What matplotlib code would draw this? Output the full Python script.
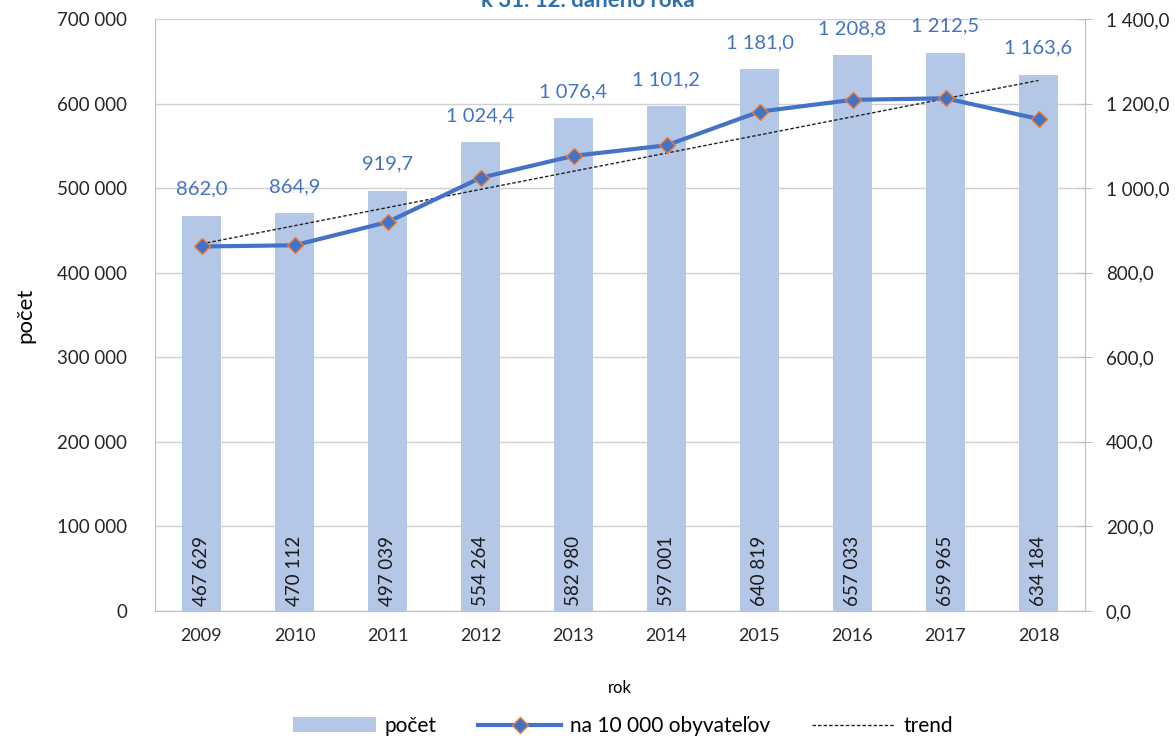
import numpy as np
import matplotlib.pyplot as plt

plt.rcParams['font.family'] = ['Lato', 'DejaVu Sans']

roky = ['2009', '2010', '2011', '2012', '2013', '2014', '2015', '2016', '2017', '2018']
pocet = [467629, 470112, 497039, 554264, 582980, 597001, 640819, 657033, 659965, 634184]
na_10000 = [862.0, 864.9, 919.7, 1024.4, 1076.4, 1101.2, 1181.0, 1208.8, 1212.5, 1163.6]

bar_col = '#B4C7E7'
line_col = '#4472C4'
grid_col = '#D0D0D0'

def fmt_int(v):
    return f'{int(v):,}'.replace(',', ' ')

def fmt_dec(v):
    s = f'{v:,.1f}'
    return s.replace(',', ' ').replace('.', ',')

fig = plt.figure(figsize=(11.75, 7.41), dpi=100)
ax = fig.add_axes([155/1175, 130/741, 930/1175, 592/741])
ax2 = ax.twinx()

x = np.arange(len(roky))
bars = ax.bar(x, pocet, width=0.42, color=bar_col, zorder=2, label='počet')
ax.set_xlim(-0.5, 9.5)
ax.set_ylim(0, 700000)
ax.set_yticks(np.arange(0, 700001, 100000))
ax.set_yticklabels([fmt_int(v) for v in np.arange(0, 700001, 100000)], fontsize=13.5)
ax.set_xticks(x)
ax.set_xticklabels(roky, fontsize=13)
ax.tick_params(axis='both', length=0, pad=12, colors='#262626')
ax.tick_params(axis='y', pad=20)
ax.grid(axis='y', color=grid_col, lw=1, zorder=0)
ax.set_axisbelow(True)
for s in ['top', 'right']:
    ax.spines[s].set_visible(False)
ax.spines['left'].set_color('#BFBFBF')
ax.spines['bottom'].set_color('#BFBFBF')
ax.set_ylabel('počet', fontsize=16, labelpad=16)
ax.set_xlabel('rok', fontsize=12, labelpad=26)

# counts inside bars, rotated
for xi, v in zip(x, pocet):
    ax.text(xi, 6000, fmt_int(v), rotation=90, ha='center', va='bottom',
            fontsize=13.5, color='#1a1a1a', zorder=5)
# ratio labels above bars
for xi, v, r in zip(x, pocet, na_10000):
    ax.annotate(fmt_dec(r), (xi, v), xytext=(0, 13), textcoords='offset points',
                ha='center', va='bottom', fontsize=14.5, color=line_col, zorder=5)

ln, = ax2.plot(x, na_10000, color=line_col, lw=3, marker='D', markersize=8,
               markerfacecolor=line_col, markeredgecolor='#ED7D31', markeredgewidth=1,
               zorder=4, label='na 10 000 obyvateľov')
k, q = np.polyfit(x, na_10000, 1)
tr, = ax2.plot(x, k * x + q, color='#202020', lw=1, ls=(0, (2.5, 1.5)), zorder=3, label='trend')
ax2.set_ylim(0, 1400)
ax2.set_yticks(np.arange(0, 1401, 200))
ax2.set_yticklabels([fmt_dec(v) for v in np.arange(0, 1401, 200)], fontsize=13.5)
ax2.tick_params(axis='y', direction='inout', length=10, color='#BFBFBF', pad=10, labelcolor='#262626')
for s in ['top', 'left', 'bottom']:
    ax2.spines[s].set_visible(False)
ax2.spines['right'].set_color('#BFBFBF')
ax2.patch.set_visible(False)

# title is cut off at the top edge as in the original
fig.text(0.5, 0.999, 'k 31. 12. daného roka', ha='center', va='center',
         fontsize=16, fontweight='bold', color='#2E6FAE')

fig.legend([bars, ln, tr], ['počet', 'na 10 000 obyvateľov', 'trend'],
           loc='center', bbox_to_anchor=(0.53, 15/741), ncol=3, frameon=False,
           fontsize=15, handlelength=4, columnspacing=2.0, handletextpad=0.4)

fig.savefig('out.png', dpi=100)
